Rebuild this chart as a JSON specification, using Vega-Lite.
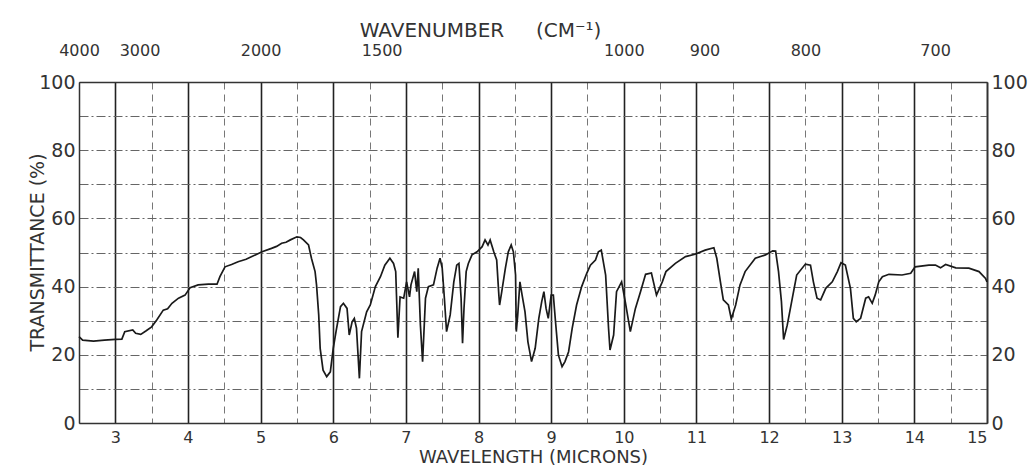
{
  "$schema": "https://vega.github.io/schema/vega-lite/v6.json",
  "width": 908,
  "height": 341,
  "autosize": {"type": "none"},
  "padding": {"left": 79, "top": 82, "right": 47, "bottom": 44},
  "background": "white",
  "config": {
    "font": "DejaVu Sans",
    "view": {"stroke": null},
    "axis": {"labelColor": "#333", "titleColor": "#333", "titleFontWeight": "normal", "domainColor": "#333", "domainWidth": 1.5, "ticks": false, "tickSize": 0}
  },
  "data": {"values": [
    {"wl": 2.5, "T": 25.3}, {"wl": 2.55, "T": 24.3}, {"wl": 2.7, "T": 24.0}, {"wl": 2.85, "T": 24.3}, {"wl": 3.0, "T": 24.5},
    {"wl": 3.09, "T": 24.6}, {"wl": 3.13, "T": 26.8}, {"wl": 3.24, "T": 27.3}, {"wl": 3.28, "T": 26.3}, {"wl": 3.35, "T": 26.0},
    {"wl": 3.42, "T": 27.0}, {"wl": 3.5, "T": 28.2}, {"wl": 3.57, "T": 30.2}, {"wl": 3.66, "T": 33.1}, {"wl": 3.72, "T": 33.5},
    {"wl": 3.78, "T": 35.1}, {"wl": 3.87, "T": 36.6}, {"wl": 3.96, "T": 37.5}, {"wl": 4.03, "T": 39.7}, {"wl": 4.14, "T": 40.5},
    {"wl": 4.28, "T": 40.7}, {"wl": 4.4, "T": 40.7}, {"wl": 4.44, "T": 42.9}, {"wl": 4.51, "T": 45.8}, {"wl": 4.6, "T": 46.5},
    {"wl": 4.69, "T": 47.3}, {"wl": 4.8, "T": 48.0}, {"wl": 4.88, "T": 48.8}, {"wl": 5.02, "T": 50.2}, {"wl": 5.15, "T": 51.2},
    {"wl": 5.22, "T": 51.8}, {"wl": 5.29, "T": 52.7}, {"wl": 5.35, "T": 53.0}, {"wl": 5.41, "T": 53.7}, {"wl": 5.5, "T": 54.6},
    {"wl": 5.55, "T": 54.4}, {"wl": 5.59, "T": 53.7}, {"wl": 5.66, "T": 52.2}, {"wl": 5.7, "T": 48.3}, {"wl": 5.75, "T": 44.4},
    {"wl": 5.77, "T": 40.5}, {"wl": 5.8, "T": 31.7}, {"wl": 5.82, "T": 21.9}, {"wl": 5.86, "T": 15.5}, {"wl": 5.91, "T": 13.6},
    {"wl": 5.96, "T": 15.0}, {"wl": 6.0, "T": 21.9}, {"wl": 6.04, "T": 27.0}, {"wl": 6.1, "T": 34.1}, {"wl": 6.14, "T": 35.1},
    {"wl": 6.19, "T": 33.6}, {"wl": 6.22, "T": 25.8}, {"wl": 6.26, "T": 29.7}, {"wl": 6.29, "T": 30.7}, {"wl": 6.32, "T": 27.8},
    {"wl": 6.36, "T": 13.1}, {"wl": 6.39, "T": 26.8}, {"wl": 6.46, "T": 32.6}, {"wl": 6.51, "T": 34.6}, {"wl": 6.58, "T": 40.0},
    {"wl": 6.65, "T": 42.9}, {"wl": 6.71, "T": 46.3}, {"wl": 6.78, "T": 48.3}, {"wl": 6.83, "T": 46.8}, {"wl": 6.86, "T": 44.4},
    {"wl": 6.89, "T": 25.0}, {"wl": 6.92, "T": 37.0}, {"wl": 6.97, "T": 36.6}, {"wl": 7.01, "T": 41.4}, {"wl": 7.05, "T": 37.0},
    {"wl": 7.07, "T": 40.5}, {"wl": 7.12, "T": 44.4}, {"wl": 7.15, "T": 38.5}, {"wl": 7.17, "T": 45.4}, {"wl": 7.2, "T": 28.7},
    {"wl": 7.23, "T": 18.0}, {"wl": 7.27, "T": 36.6}, {"wl": 7.31, "T": 40.0}, {"wl": 7.38, "T": 40.5}, {"wl": 7.43, "T": 45.4},
    {"wl": 7.47, "T": 48.3}, {"wl": 7.5, "T": 45.4}, {"wl": 7.53, "T": 36.6}, {"wl": 7.56, "T": 26.8}, {"wl": 7.61, "T": 31.7},
    {"wl": 7.66, "T": 41.4}, {"wl": 7.7, "T": 46.3}, {"wl": 7.73, "T": 46.8}, {"wl": 7.76, "T": 36.6}, {"wl": 7.78, "T": 23.4},
    {"wl": 7.8, "T": 33.6}, {"wl": 7.83, "T": 44.4}, {"wl": 7.86, "T": 46.8}, {"wl": 7.91, "T": 49.3}, {"wl": 7.98, "T": 50.2},
    {"wl": 8.05, "T": 51.7}, {"wl": 8.09, "T": 53.7}, {"wl": 8.13, "T": 52.2}, {"wl": 8.16, "T": 53.7}, {"wl": 8.21, "T": 50.2},
    {"wl": 8.25, "T": 47.8}, {"wl": 8.28, "T": 37.5}, {"wl": 8.29, "T": 34.6}, {"wl": 8.32, "T": 38.5}, {"wl": 8.37, "T": 45.4},
    {"wl": 8.41, "T": 50.2}, {"wl": 8.45, "T": 52.2}, {"wl": 8.48, "T": 50.2}, {"wl": 8.51, "T": 43.4}, {"wl": 8.52, "T": 26.8},
    {"wl": 8.54, "T": 31.7}, {"wl": 8.57, "T": 41.4}, {"wl": 8.6, "T": 37.5}, {"wl": 8.64, "T": 32.6}, {"wl": 8.68, "T": 23.8},
    {"wl": 8.73, "T": 18.0}, {"wl": 8.78, "T": 21.9}, {"wl": 8.83, "T": 30.7}, {"wl": 8.87, "T": 35.6}, {"wl": 8.9, "T": 38.5},
    {"wl": 8.93, "T": 33.6}, {"wl": 8.96, "T": 30.7}, {"wl": 9.0, "T": 37.5}, {"wl": 9.03, "T": 37.5}, {"wl": 9.06, "T": 29.7},
    {"wl": 9.1, "T": 19.9}, {"wl": 9.15, "T": 16.5}, {"wl": 9.19, "T": 18.0}, {"wl": 9.24, "T": 20.9}, {"wl": 9.29, "T": 27.8},
    {"wl": 9.35, "T": 34.6}, {"wl": 9.42, "T": 40.0}, {"wl": 9.49, "T": 43.9}, {"wl": 9.54, "T": 46.3}, {"wl": 9.61, "T": 47.8},
    {"wl": 9.65, "T": 50.2}, {"wl": 9.69, "T": 50.7}, {"wl": 9.75, "T": 43.4}, {"wl": 9.79, "T": 27.8}, {"wl": 9.81, "T": 21.4},
    {"wl": 9.86, "T": 25.8}, {"wl": 9.9, "T": 38.5}, {"wl": 9.97, "T": 41.4}, {"wl": 10.02, "T": 35.6}, {"wl": 10.09, "T": 26.8},
    {"wl": 10.16, "T": 33.6}, {"wl": 10.23, "T": 38.5}, {"wl": 10.3, "T": 43.6}, {"wl": 10.38, "T": 44.0}, {"wl": 10.45, "T": 37.5},
    {"wl": 10.53, "T": 41.4}, {"wl": 10.58, "T": 44.4}, {"wl": 10.71, "T": 46.8}, {"wl": 10.85, "T": 48.8}, {"wl": 10.98, "T": 49.5},
    {"wl": 11.12, "T": 50.7}, {"wl": 11.24, "T": 51.4}, {"wl": 11.28, "T": 48.3}, {"wl": 11.33, "T": 41.4}, {"wl": 11.37, "T": 36.1},
    {"wl": 11.44, "T": 34.6}, {"wl": 11.48, "T": 30.5}, {"wl": 11.54, "T": 34.6}, {"wl": 11.6, "T": 40.5}, {"wl": 11.67, "T": 44.4},
    {"wl": 11.81, "T": 48.3}, {"wl": 11.95, "T": 49.3}, {"wl": 12.05, "T": 50.5}, {"wl": 12.09, "T": 50.4}, {"wl": 12.13, "T": 44.4},
    {"wl": 12.17, "T": 35.6}, {"wl": 12.2, "T": 24.5}, {"wl": 12.25, "T": 28.7}, {"wl": 12.32, "T": 36.6}, {"wl": 12.38, "T": 43.4},
    {"wl": 12.5, "T": 46.6}, {"wl": 12.57, "T": 46.3}, {"wl": 12.61, "T": 41.4}, {"wl": 12.66, "T": 36.6}, {"wl": 12.71, "T": 36.1},
    {"wl": 12.78, "T": 39.5}, {"wl": 12.87, "T": 41.4}, {"wl": 12.94, "T": 44.4}, {"wl": 12.99, "T": 47.0}, {"wl": 13.05, "T": 46.3},
    {"wl": 13.12, "T": 39.5}, {"wl": 13.16, "T": 30.7}, {"wl": 13.2, "T": 29.7}, {"wl": 13.26, "T": 30.7}, {"wl": 13.33, "T": 36.6},
    {"wl": 13.37, "T": 37.0}, {"wl": 13.42, "T": 35.1}, {"wl": 13.46, "T": 37.5}, {"wl": 13.51, "T": 41.4}, {"wl": 13.56, "T": 42.9},
    {"wl": 13.65, "T": 43.6}, {"wl": 13.83, "T": 43.4}, {"wl": 13.95, "T": 43.9}, {"wl": 14.01, "T": 45.8}, {"wl": 14.2, "T": 46.3},
    {"wl": 14.29, "T": 46.3}, {"wl": 14.36, "T": 45.5}, {"wl": 14.43, "T": 46.5}, {"wl": 14.57, "T": 45.5}, {"wl": 14.75, "T": 45.4},
    {"wl": 14.89, "T": 44.4}, {"wl": 14.98, "T": 42.4}, {"wl": 15.0, "T": 41.4}
  ]},
  "layer": [
    {
      "mark": {"type": "line", "color": "#1a1a1a", "strokeWidth": 1.7, "interpolate": "linear"},
      "encoding": {
        "x": {
          "field": "wl", "type": "quantitative",
          "scale": {"domain": [2.5, 15], "nice": false, "zero": false},
          "axis": {
            "orient": "bottom",
            "values": [2.5, 3, 3.5, 4, 4.5, 5, 5.5, 6, 6.5, 7, 7.5, 8, 8.5, 9, 9.5, 10, 10.5, 11, 11.5, 12, 12.5, 13, 13.5, 14, 14.5, 15],
            "labelExpr": "datum.value % 1 === 0 ? format(datum.value, 'd') : ''",
            "labelFontSize": 16, "labelPadding": 6,
            "grid": true,
            "gridColor": {"condition": {"test": "datum.value % 1 === 0", "value": "#222"}, "value": "#777"},
            "gridWidth": {"condition": {"test": "datum.value % 1 === 0", "value": 1.6}, "value": 1},
            "gridDash": {"condition": {"test": "datum.value % 1 === 0", "value": []}, "value": [7, 5]},
            "title": "WAVELENGTH  (MICRONS)", "titleFontSize": 18, "titleY": 34, "titleBaseline": "middle"
          }
        },
        "y": {
          "field": "T", "type": "quantitative",
          "scale": {"domain": [0, 100], "nice": false},
          "axis": {
            "orient": "left",
            "values": [0, 10, 20, 30, 40, 50, 60, 70, 80, 90, 100],
            "labelExpr": "datum.value % 20 === 0 ? datum.label : ''",
            "labelFontSize": 19, "labelPadding": 4,
            "grid": true, "gridColor": "#666", "gridWidth": 1, "gridDash": [9, 3, 2, 3],
            "title": "TRANSMITTANCE (%)", "titleFontSize": 19, "titleX": -42, "titleY": 170, "titleBaseline": "middle"
          }
        }
      }
    },
    {
      "mark": {"type": "line", "strokeOpacity": 0},
      "encoding": {
        "x": {
          "field": "wl", "type": "quantitative",
          "axis": {
            "orient": "top",
            "values": [2.5, 3.33333, 5, 6.66667, 10, 11.1111, 12.5, 14.2857],
            "labelExpr": "format(10000 / datum.value, '.0f')",
            "labelFlush": false, "labelOverlap": false,
            "labelFontSize": 16, "labelPadding": 24,
            "grid": false,
            "title": "WAVENUMBER\u00a0\u00a0\u00a0\u00a0\u00a0(CM⁻¹)", "titleFontSize": 20, "titleX": 401, "titleY": -52, "titleBaseline": "middle"
          }
        },
        "y": {
          "field": "T", "type": "quantitative",
          "axis": {
            "orient": "right",
            "values": [0, 20, 40, 60, 80, 100],
            "labelFontSize": 19, "labelPadding": 4,
            "grid": false, "title": null
          }
        }
      }
    }
  ],
  "resolve": {"axis": {"x": "independent", "y": "independent"}}
}
